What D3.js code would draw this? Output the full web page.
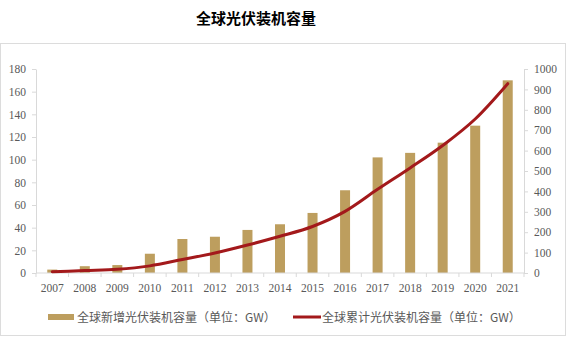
<!DOCTYPE html>
<html><head><meta charset="utf-8">
<script src="https://cdn.jsdelivr.net/npm/d3@7"></script>
<style>body{margin:0;background:#fff}svg{display:block}
.tick text{font-family:"Liberation Serif","DejaVu Serif",serif !important;}</style>
</head><body>
<svg id="c" width="568" height="340"></svg>
<script>
const years = ["2007","2008","2009","2010","2011","2012","2013","2014","2015","2016","2017","2018","2019","2020","2021"];
const newCap = [3, 6, 7, 17, 30, 32, 38, 43, 53, 73, 102, 106, 115, 130, 170];
const cumCap = [6, 12, 18, 35, 66, 98, 137, 180, 228, 302, 410, 515, 625, 755, 928];
const leftTicks = [0,20,40,60,80,100,120,140,160,180];
const rightTicks = [0,100,200,300,400,500,600,700,800,900,1000];
const title = "全球光伏装机容量";
const legendBar = "全球新增光伏装机容量（单位：GW）";
const legendLine = "全球累计光伏装机容量（单位：GW）";

const svg = d3.select("#c");
const L = 36, R = 524, T = 69, B = 273;
const barColor = "#bd9e5e", lineColor = "#a3191b", axisColor = "#d9d9d9", txtColor = "#595959";

svg.append("rect").attr("x",0.5).attr("y",43.5).attr("width",565).attr("height",292)
  .attr("fill","none").attr("stroke","#dcdcdc");

svg.append("text").attr("x",256).attr("y",24).attr("text-anchor","middle")
  .style("font-family","'Noto Sans CJK SC'").attr("font-weight","bold").attr("font-size",15)
  .attr("fill","#000").text(title);

const x = d3.scaleBand().domain(years).range([L,R]).paddingInner(0).paddingOuter(0);
const yL = d3.scaleLinear().domain([0,180]).range([B,T]);
const yR = d3.scaleLinear().domain([0,1000]).range([B,T]);

const bw = 10;
svg.append("g").selectAll("rect").data(years).join("rect")
  .attr("x",(d)=>x(d)+x.bandwidth()/2-bw/2).attr("width",bw)
  .attr("y",(d,i)=>yL(newCap[i])).attr("height",(d,i)=>B-yL(newCap[i]))
  .attr("fill",barColor);

function styleAxis(g){
  g.attr("font-family",null);
  g.select(".domain").attr("stroke",axisColor);
  g.selectAll(".tick line").attr("stroke",axisColor);
  g.selectAll(".tick text").attr("fill",txtColor).attr("font-size",11.5);
}
const gl = svg.append("g").attr("transform",`translate(${L},0)`)
  .call(d3.axisLeft(yL).tickValues(leftTicks).tickFormat(d3.format("d")).tickSize(4).tickSizeOuter(0).tickPadding(6));
styleAxis(gl);
const gr = svg.append("g").attr("transform",`translate(${R},0)`)
  .call(d3.axisRight(yR).tickValues(rightTicks).tickFormat(d3.format("d")).tickSize(4).tickSizeOuter(0).tickPadding(6));
styleAxis(gr);

const gx = svg.append("g").attr("transform",`translate(0,${B})`)
  .call(d3.axisBottom(x).tickSize(0).tickPadding(11));
styleAxis(gx);
gx.select(".domain").remove();
gx.append("line").attr("x1",L).attr("x2",R).attr("stroke",axisColor);
gx.selectAll("line.b").data(years.concat(["end"])).join("line").attr("class","b")
  .attr("x1",(d,i)=>L+i*x.step()).attr("x2",(d,i)=>L+i*x.step())
  .attr("y1",0).attr("y2",4).attr("stroke",axisColor);

const line = d3.line().x((d,i)=>x(years[i])+x.bandwidth()/2).y(d=>yR(d)).curve(d3.curveMonotoneX);
svg.append("path").datum(cumCap).attr("d",line).attr("fill","none")
  .attr("stroke",lineColor).attr("stroke-width",3).attr("stroke-linecap","round");

const ly = 317;
svg.append("rect").attr("x",48).attr("y",ly-3).attr("width",26).attr("height",6).attr("fill",barColor);
svg.append("text").attr("x",77).attr("y",ly+4.5).style("font-family","'Noto Sans CJK SC'")
  .attr("font-size",12).attr("fill",txtColor).text(legendBar);
svg.append("line").attr("x1",293).attr("x2",321).attr("y1",ly).attr("y2",ly)
  .attr("stroke",lineColor).attr("stroke-width",3);
svg.append("text").attr("x",322).attr("y",ly+4.5).style("font-family","'Noto Sans CJK SC'")
  .attr("font-size",12).attr("fill",txtColor).text(legendLine);
</script>
</body></html>
